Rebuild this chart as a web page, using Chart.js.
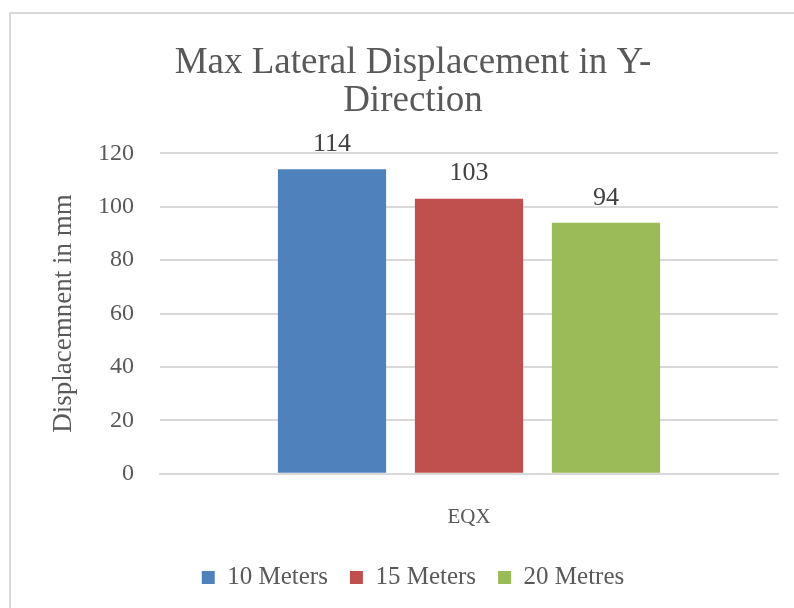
<!DOCTYPE html>
<html>
<head>
<meta charset="utf-8">
<script src="https://cdn.jsdelivr.net/npm/chart.js@4.4.0/dist/chart.umd.min.js"></script>
<style>
  html, body { margin: 0; padding: 0; background: #ffffff; }
  #wrap { position: relative; width: 794px; height: 608px; overflow: hidden; }
  #frame { position: absolute; left: 9px; top: 12px; width: 800px; height: 620px;
           border-left: 2px solid #d9d9d9; border-top: 2px solid #d9d9d9; box-sizing: border-box; }
  #c { position: absolute; left: 0; top: 0; }
</style>
</head>
<body>
<div id="wrap">
  <div id="frame"></div>
  <canvas id="c" width="794" height="608"></canvas>
</div>
<script>
const categories = ["EQX"];
const seriesNames = ["10 Meters", "15 Meters", "20 Metres"];
const values10 = [114];
const values15 = [103];
const values20 = [94];
const yTicks = [0, 20, 40, 60, 80, 100, 120];
const titleLines = ["Max Lateral Displacement in Y-", "Direction"];
const yAxisTitle = "Displacemnent in mm";

const SERIF = "'Liberation Serif', 'DejaVu Serif', serif";
const TEXT = "#595959";

const valueLabels = {
  id: "valueLabels",
  afterDatasetsDraw(chart) {
    const ctx = chart.ctx;
    ctx.save();
    ctx.font = "26px " + SERIF;
    ctx.fillStyle = "#404040";
    ctx.textAlign = "center";
    ctx.textBaseline = "middle";
    chart.data.datasets.forEach((ds, i) => {
      const meta = chart.getDatasetMeta(i);
      meta.data.forEach((el, j) => {
        ctx.fillText(String(ds.data[j]), el.x, el.y - 25);
      });
    });
    ctx.restore();
  }
};

new Chart(document.getElementById("c"), {
  type: "bar",
  data: {
    labels: categories,
    datasets: [
      { label: seriesNames[0], data: values10, backgroundColor: "#4f81bd" },
      { label: seriesNames[1], data: values15, backgroundColor: "#c0504d" },
      { label: seriesNames[2], data: values20, backgroundColor: "#9bbb59" }
    ]
  },
  options: {
    responsive: false,
    animation: false,
    devicePixelRatio: 1,
    categoryPercentage: 0.665,
    barPercentage: 0.79,
    layout: { padding: { left: 48, right: 16, top: 0, bottom: 8 } },
    plugins: {
      title: {
        display: true,
        text: titleLines,
        color: TEXT,
        font: { family: SERIF, size: 37, weight: "normal", lineHeight: 1.03 },
        padding: { top: 44, bottom: 33 }
      },
      legend: {
        position: "bottom",
        labels: {
          color: TEXT,
          font: { family: SERIF, size: 25 },
          boxWidth: 13,
          boxHeight: 13,
          padding: 22
        }
      },
      tooltip: { enabled: false }
    },
    scales: {
      x: {
        grid: { display: false },
        border: { display: true, color: "#d9d9d9", width: 2 },
        ticks: { color: TEXT, font: { family: SERIF, size: 21 }, padding: 23 },
        afterFit(scale) { scale.height -= 10; }
      },
      y: {
        min: 0,
        max: 120,
        afterBuildTicks(scale) { scale.ticks = yTicks.map(v => ({ value: v })); },
        afterFit(scale) { scale.width = 112; },
        grid: { color: "#d9d9d9", lineWidth: 2, drawTicks: false },
        border: { display: false },
        ticks: { color: TEXT, font: { family: SERIF, size: 24 }, padding: 26 },
        title: {
          display: true,
          text: yAxisTitle,
          color: TEXT,
          font: { family: SERIF, size: 27 },
          padding: { top: 0, bottom: 0 }
        }
      }
    }
  },
  plugins: [valueLabels]
});
</script>
</body>
</html>
